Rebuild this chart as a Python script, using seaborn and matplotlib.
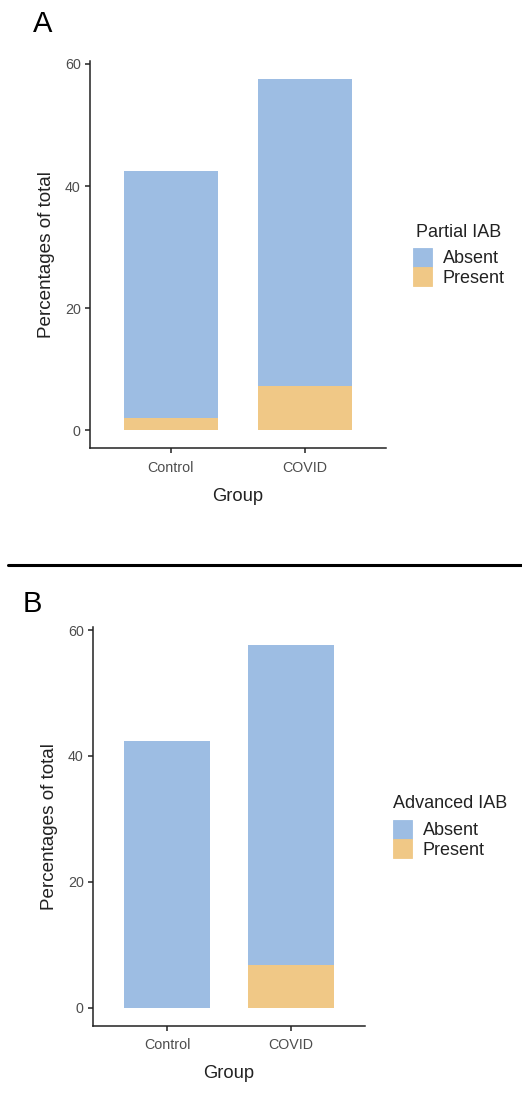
import matplotlib
matplotlib.use("Agg")
import pandas as pd
import matplotlib.pyplot as plt
from matplotlib.patches import Patch
from matplotlib.lines import Line2D
import seaborn as sns

# ---------------------------
# Data (percentages of total)
# ---------------------------
groups = ["Control", "COVID"]
levels = ["Absent", "Present"]
partial_absent = [40.4, 50.4]
partial_present = [2.0, 7.2]
advanced_absent = [42.4, 50.9]
advanced_present = [0.0, 6.7]

blue = "#9dbde3"
orange = "#f0c886"
dark = "#222222"

sns.set_theme(style="ticks")
plt.rcParams["font.family"] = ["Liberation Sans", "DejaVu Sans"]

W, H = 522, 1105
fig = plt.figure(figsize=(W / 100, H / 100), dpi=100)


def panel(rect, absent, present, legend_title, title_pos, keys_pos):
    ax = fig.add_axes(rect)
    df = pd.DataFrame({"Group": groups, "Absent": absent, "Present": present})
    df["Total"] = df["Absent"] + df["Present"]

    # stacked bars: total in blue, present drawn over the bottom part
    sns.barplot(data=df, x="Group", y="Total", order=groups, color=blue,
                width=0.7, saturation=1, linewidth=0, errorbar=None, ax=ax)
    sns.barplot(data=df, x="Group", y="Present", order=groups, color=orange,
                width=0.7, saturation=1, linewidth=0, errorbar=None, ax=ax)

    top = df["Total"].max()
    ax.set_ylim(-0.05 * top, top * 1.05)
    ax.set_xlim(-0.6, 1.6)
    ax.set_yticks([0, 20, 40, 60])
    sns.despine(ax=ax)
    for side in ["left", "bottom"]:
        ax.spines[side].set_linewidth(1.1)
        ax.spines[side].set_color(dark)
    ax.tick_params(length=3.8, width=1.1, color=dark, labelsize=10.3,
                   labelcolor="#4d4d4d")
    ax.tick_params(axis="x", pad=5.2)
    ax.tick_params(axis="y", pad=2.8)
    ax.set_xlabel("Group", fontsize=13.2, color=dark, labelpad=9.5)
    ax.set_ylabel("Percentages of total", fontsize=13.6, color=dark, labelpad=7)

    # legend: title as text, keys stacked right below it
    fig.text(title_pos[0] / W, 1 - title_pos[1] / H, legend_title,
             fontsize=13, color=dark, va="baseline", ha="left")
    handles = [Patch(facecolor=blue, edgecolor=blue, linewidth=0.6),
               Patch(facecolor=orange, edgecolor=orange, linewidth=0.6)]
    leg = fig.legend(handles, levels, loc="upper left",
                     bbox_to_anchor=(keys_pos[0] / W, 1 - keys_pos[1] / H),
                     bbox_transform=fig.transFigure, frameon=False,
                     fontsize=13, handlelength=1.05, handleheight=1.2,
                     labelspacing=0, handletextpad=0.6,
                     borderpad=0, borderaxespad=0)
    for t in leg.get_texts():
        t.set_color(dark)
    return ax


# Panel A: Partial IAB
panel([90 / W, 1 - 448 / H, 295.7 / W, 387 / H],
      partial_absent, partial_present, "Partial IAB", (415.5, 236.7), (413, 248))
fig.text(33 / W, 1 - 32 / H, "A", fontsize=21, va="baseline", color="black")

# separator line
fig.add_artist(Line2D([8 / W, 1], [1 - 565 / H, 1 - 565 / H], color="black",
                      lw=2.2, transform=fig.transFigure))

# Panel B: Advanced IAB
panel([93 / W, 1 - 1025.7 / H, 272 / W, 398.7 / H],
      advanced_absent, advanced_present, "Advanced IAB", (392.7, 808), (392.7, 820))
fig.text(23 / W, 1 - 611.7 / H, "B", fontsize=21, va="baseline", color="black")

fig.savefig("out.png", dpi=100)
